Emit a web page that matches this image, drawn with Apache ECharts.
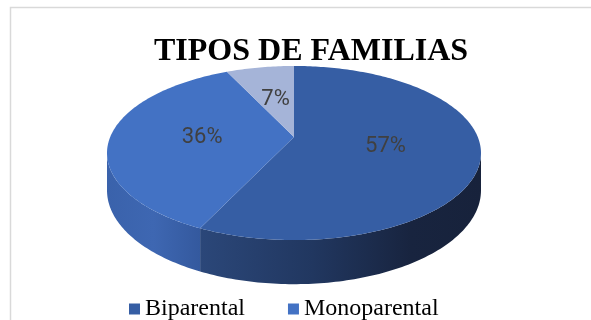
<!DOCTYPE html>
<html>
<head>
<meta charset="utf-8">
<script src="https://cdn.jsdelivr.net/npm/echarts@6/dist/echarts.min.js"></script>
<style>
  html, body { margin: 0; padding: 0; background: #ffffff; }
  #chart { width: 591px; height: 320px; }
</style>
</head>
<body>
<div id="chart"></div>
<script>
// Family types and their share (%)
const categories = ['Biparental', 'Monoparental', 'Extensa'];
const shares = [57, 36, 7];
const legendNames = ['Biparental', 'Monoparental'];

// Face colours of each slice
const topColors = ['#365EA4', '#4372C4', '#A5B4D8'];
const sideStops = [
  [[0, '#2B4779'], [0.4, '#213760'], [0.75, '#18243F'], [1, '#17223B']],
  [[0, '#3A62AB'], [0.5, '#3E67B2'], [1, '#34599E']],
  [[0, '#8A9BC4'], [1, '#7F90BA']]
];

// Tilted-disc geometry (pixels) with a light perspective
const PIE = { cx: 294, apexY: 137, rx: 183.8, ry: 84.1, persp: 0.184, depth: 36 };

const total = shares.reduce((a, b) => a + b, 0);
const startAngles = [];
shares.reduce((acc, v, i) => { startAngles[i] = acc; return acc + v / total * 360; }, 0);

// Project a point of the top face: angle clockwise from 12 o'clock, k = radius fraction
function rim(deg, k) {
  const t = deg * Math.PI / 180;
  const c = Math.cos(t), s = Math.sin(t);
  const f = 1 / (1 + PIE.persp * k * c);
  return [PIE.cx + PIE.rx * k * s * f, PIE.apexY - PIE.ry * k * c * f, f];
}

// Front wall is visible between the two silhouette angles
const silR = Math.acos(-PIE.persp) * 180 / Math.PI;
const silL = 360 - silR;

function arcPoints(a0, a1) {
  const n = Math.max(2, Math.ceil(Math.abs(a1 - a0)));
  const pts = [];
  for (let j = 0; j <= n; j++) pts.push(rim(a0 + (a1 - a0) * j / n, 1));
  return pts;
}

function makeRenderItem(i) {
  return function (params, api) {
    const v = api.value(0);
    const a0 = startAngles[i];
    const a1 = a0 + v / total * 360;
    const children = [];

    const s0 = Math.max(a0, silR), s1 = Math.min(a1, silL);
    if (s1 > s0) {
      const upper = arcPoints(s0, s1);
      const lower = upper.map(p => [p[0], p[1] + PIE.depth * p[2]]).reverse();
      children.push({
        type: 'polygon',
        shape: { points: upper.map(p => [p[0], p[1]]).concat(lower) },
        style: { fill: new echarts.graphic.LinearGradient(0, 0, 1, 0,
          sideStops[i].map(st => ({ offset: st[0], color: st[1] }))) }
      });
    }

    const topPts = [[PIE.cx, PIE.apexY]].concat(arcPoints(a0, a1).map(p => [p[0], p[1]]));
    children.push({ type: 'polygon', shape: { points: topPts }, style: { fill: topColors[i] } });

    const lp = rim((a0 + a1) / 2, 0.5);
    children.push({
      type: 'text', x: lp[0], y: lp[1],
      style: {
        text: Math.round(v / total * 100) + '%',
        fill: '#404040', font: '22px Roboto',
        align: 'center', verticalAlign: 'middle'
      }
    });
    return { type: 'group', children: children };
  };
}

const chart = echarts.init(document.getElementById('chart'), null, { renderer: 'canvas' });
chart.setOption({
  animation: false,
  backgroundColor: '#ffffff',
  title: {
    text: 'TIPOS DE FAMILIAS',
    left: 149, top: 31,
    textStyle: { fontFamily: 'Liberation Serif', fontWeight: 'bold', fontSize: 32, color: '#000000' }
  },
  legend: {
    data: legendNames,
    left: 124, top: 292,
    icon: 'rect', itemWidth: 11, itemHeight: 11, itemGap: 43,
    textStyle: { fontFamily: 'Liberation Serif', fontSize: 24, color: '#000000' }
  },
  graphic: [{
    type: 'polyline', silent: true,
    shape: { points: [[10.5, 330], [10.5, 7.5], [600, 7.5]] },
    style: { stroke: '#D9D9D9', lineWidth: 1.5, fill: null }
  }],
  series: categories.map((name, i) => ({
    type: 'custom',
    name: name,
    coordinateSystem: 'none',
    itemStyle: { color: topColors[i] },
    renderItem: makeRenderItem(i),
    data: [[shares[i]]]
  }))
});
</script>
</body>
</html>
